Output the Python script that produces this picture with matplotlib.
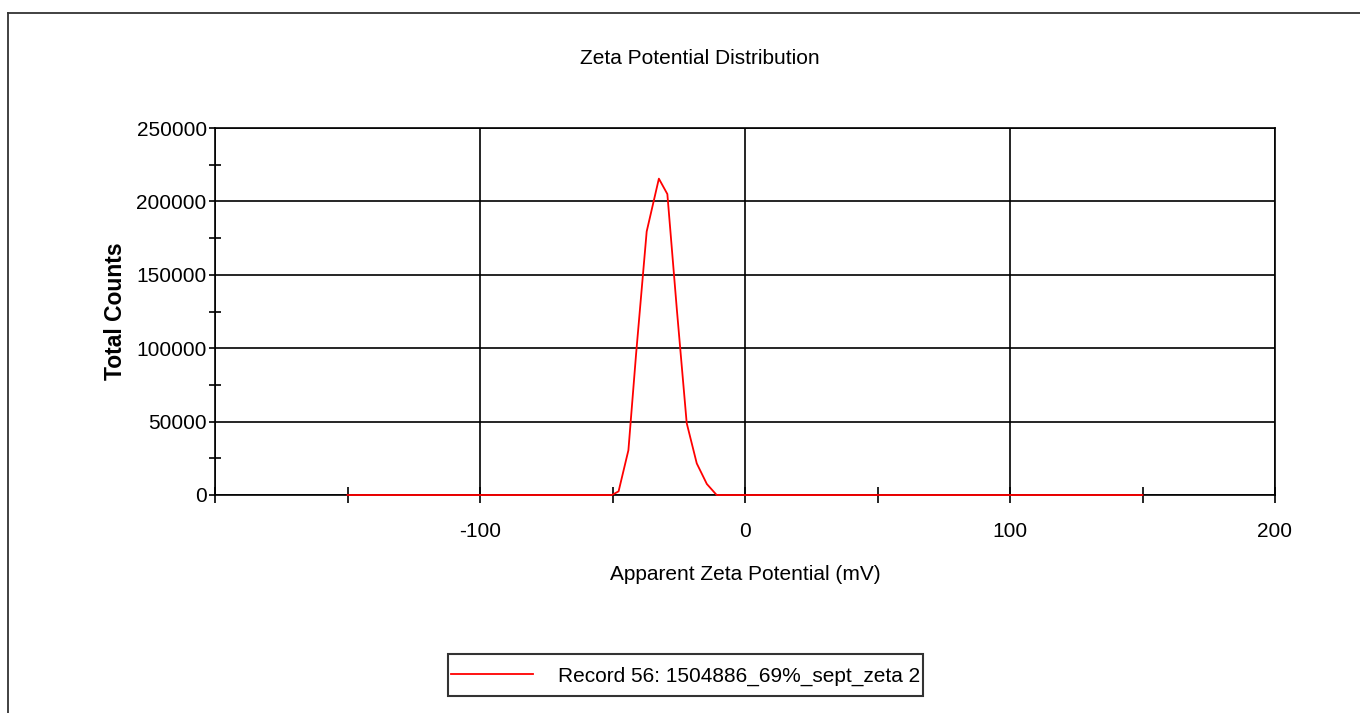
import matplotlib
matplotlib.use("Agg")
import numpy as np
import matplotlib.pyplot as plt
from matplotlib.lines import Line2D
from matplotlib.ticker import FixedLocator
from matplotlib.legend_handler import HandlerLine2D

plt.rcParams['font.family'] = ['Liberation Sans', 'DejaVu Sans']

# Data
zeta_mv = [-150.0, -50.2, -47.7, -44.0, -41.1, -37.1, -32.5, -29.3, -25.7, -22.0, -18.2, -14.4, -10.7, 150.0]
counts = [0, 0, 2500, 30500, 96000, 179500, 215500, 205000, 126000, 49000, 21500, 7500, 0, 0]

title = "Zeta Potential Distribution"
xlabel = "Apparent Zeta Potential (mV)"
ylabel = "Total Counts"
legend_label = "Record 56: 1504886_69%_sept_zeta 2"
x_major = [-200, -100, 0, 100, 200]
x_minor = [-150, -50, 50, 150]
y_major = [0, 50000, 100000, 150000, 200000, 250000]
y_minor = [25000, 75000, 125000, 175000, 225000]

W, H = 1360, 713
fig = plt.figure(figsize=(W / 100, H / 100), dpi=100)
fig.patch.set_facecolor('white')

# page border lines (top and left)
fig.add_artist(Line2D([8 / W, 1.0], [1 - 13 / H, 1 - 13 / H], color='#333333', lw=1.3, transform=fig.transFigure))
fig.add_artist(Line2D([8 / W, 8 / W], [0, 1 - 13 / H], color='#333333', lw=1.3, transform=fig.transFigure))

left, right, top, bottom = 215, 1275, 128, 495
ax = fig.add_axes([left / W, 1 - bottom / H, (right - left) / W, (bottom - top) / H])

line, = ax.plot(zeta_mv, counts, color='#ff0000', lw=1.3, label=legend_label, zorder=5, clip_on=False)

ax.set_xlim(-200, 200)
ax.set_ylim(0, 250000)
ax.xaxis.set_major_locator(FixedLocator(x_major))
ax.xaxis.set_minor_locator(FixedLocator(x_minor))
ax.yaxis.set_major_locator(FixedLocator(y_major))
ax.yaxis.set_minor_locator(FixedLocator(y_minor))
ax.set_xticklabels(['' if v == -200 else str(v) for v in x_major])
ax.set_yticklabels([str(v) for v in y_major])

ax.grid(True, which='major', color='black', lw=1.2)
for s in ax.spines.values():
    s.set_color('black')
    s.set_linewidth(1.2)

ax.tick_params(axis='x', which='both', direction='inout', length=11, width=1.2, labelsize=15, pad=14)
ax.tick_params(axis='y', which='major', direction='out', length=4, width=1.2, labelsize=15, pad=2)
ax.tick_params(axis='y', which='minor', direction='inout', length=8, width=1.2)
ax.tick_params(top=False, right=False)

ax.set_xlabel(xlabel, fontsize=15, labelpad=17)
ax.set_ylabel(ylabel, fontsize=16.5, fontweight='bold', labelpad=7)
fig.text(0.5147, 1 - 58 / H, title, ha='center', va='center', fontsize=15)


def _shift_handle(legend_handle, orig_handle):
    legend_handle.update_from(orig_handle)
    legend_handle.set_ydata(np.asarray(legend_handle.get_ydata(), dtype=float) - 3.4)


leg = fig.legend(handles=[line], labels=[legend_label], loc='center',
                 bbox_to_anchor=((447 + 924) / 2 / W, 1 - 675 / H),
                 fontsize=15, handlelength=3.9, handleheight=2.2, handletextpad=1.2,
                 fancybox=False, frameon=True, borderpad=0.18, borderaxespad=0,
                 handler_map={Line2D: HandlerLine2D(update_func=_shift_handle)})
leg.get_frame().set_edgecolor('black')
leg.get_frame().set_linewidth(1.5)

fig.savefig("out.png", dpi=100)
